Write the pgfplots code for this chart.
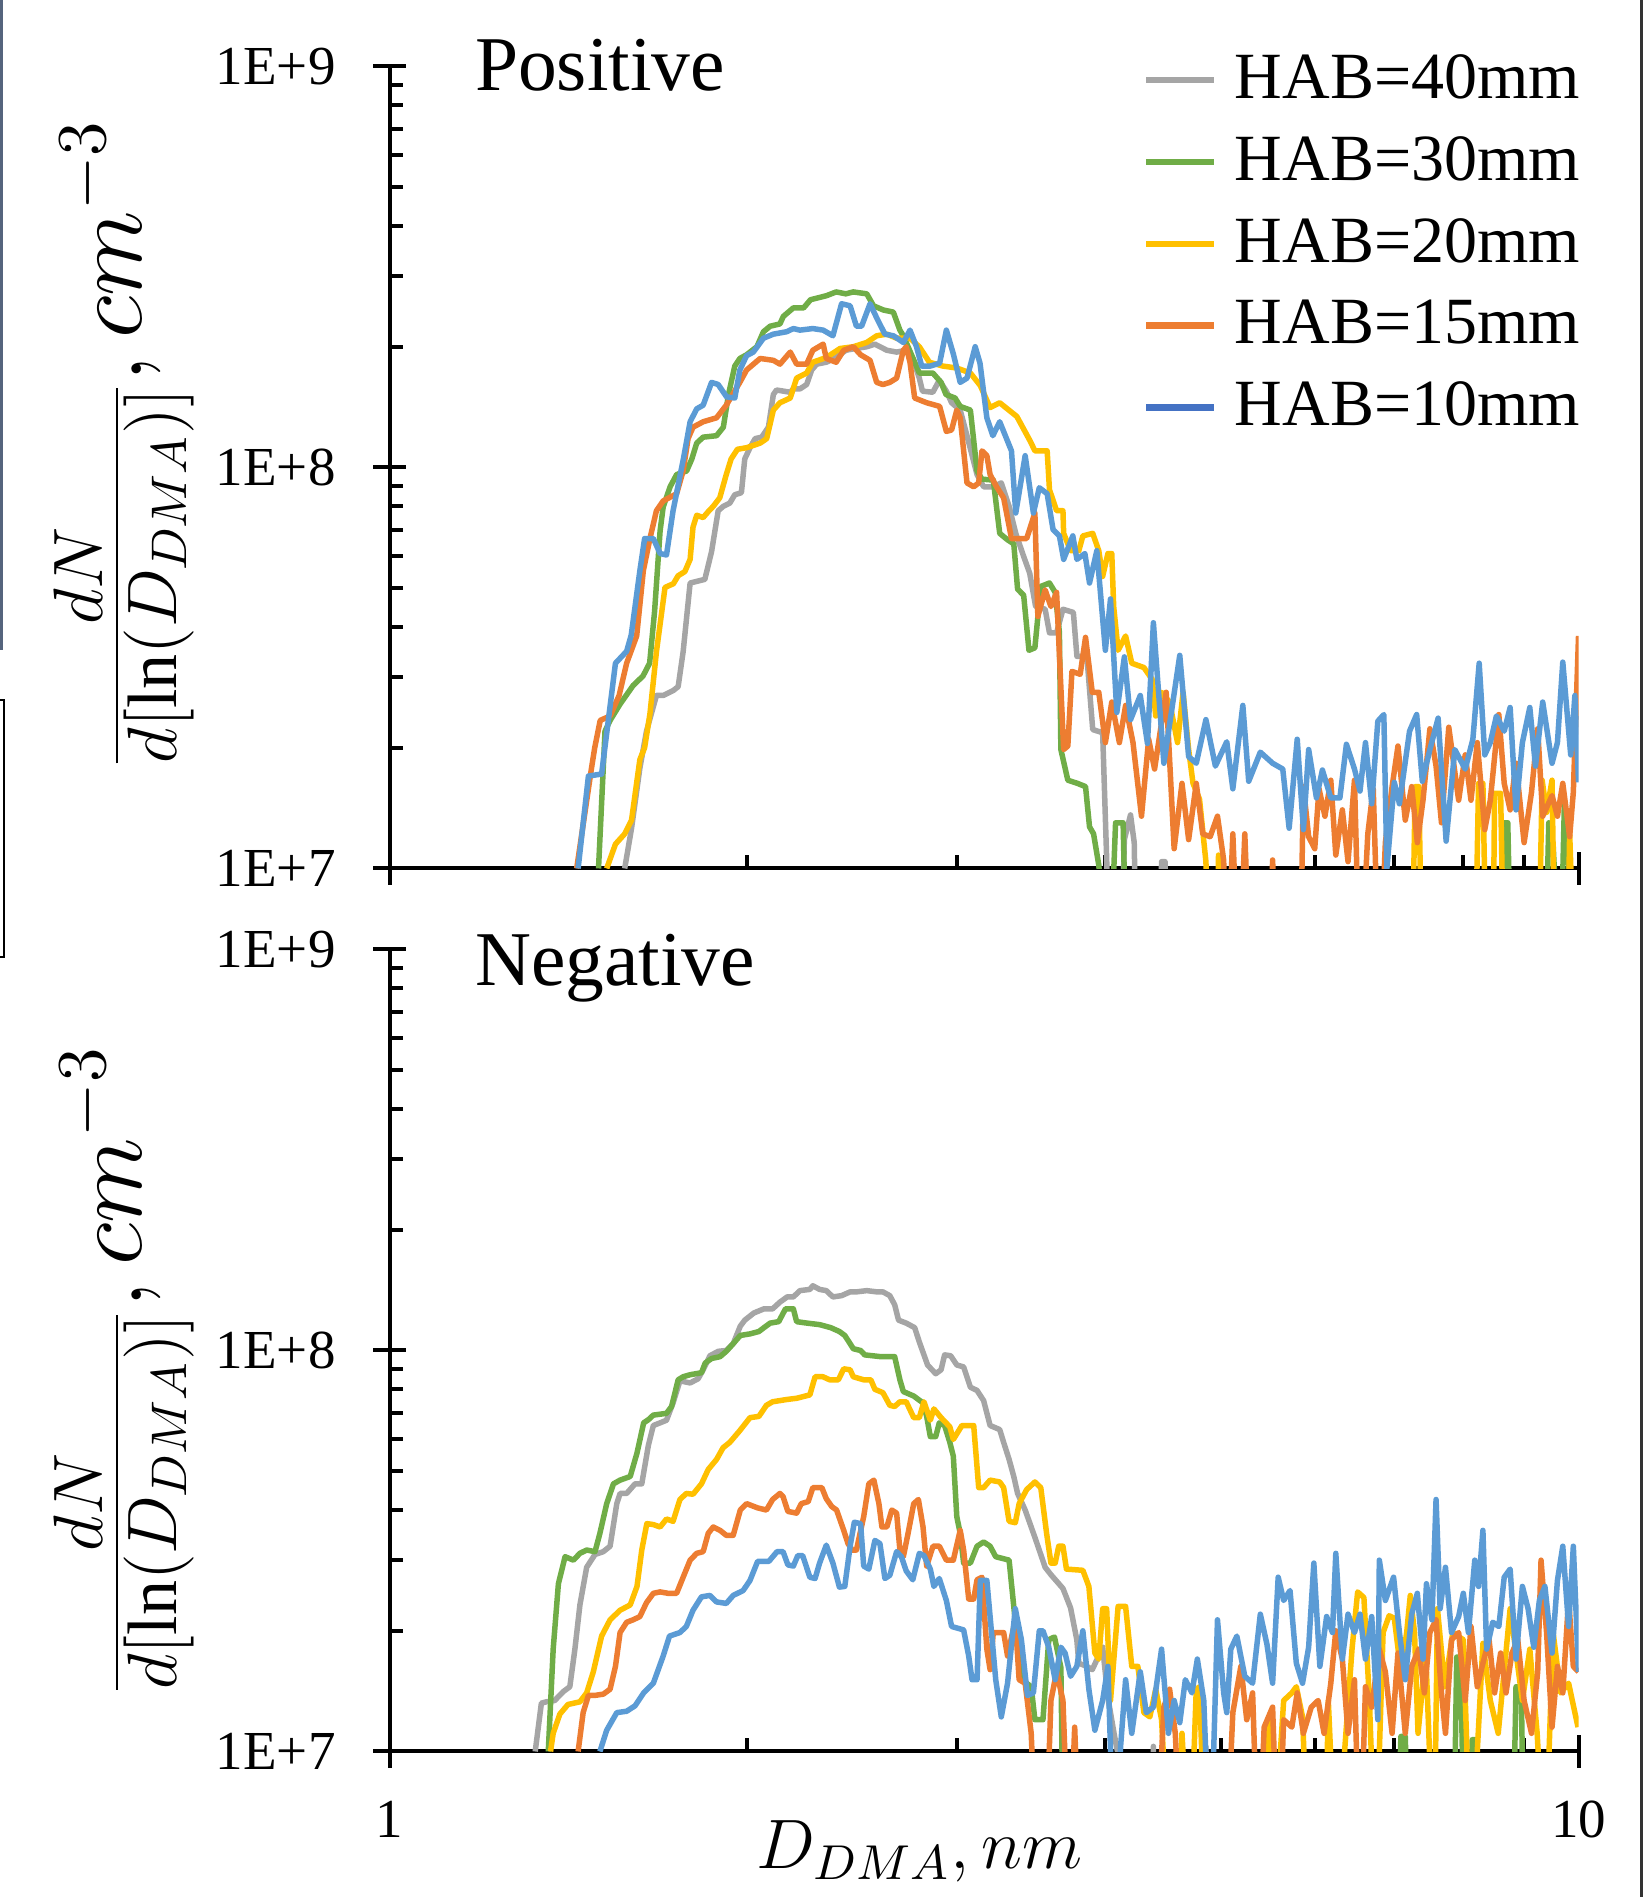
\RequirePackage{fix-cm}
\documentclass[border=0pt]{standalone}
\usepackage{fontspec}
\setmainfont{Liberation Serif}
\usepackage{pgfplots}
\pgfplotsset{compat=1.18}

\definecolor{cGray}{HTML}{A5A5A5}
\definecolor{cGreen}{HTML}{70AD47}
\definecolor{cYellow}{HTML}{FFC000}
\definecolor{cOrange}{HTML}{ED7D31}
\definecolor{cBlue}{HTML}{5B9BD5}
\definecolor{cBlueL}{HTML}{4472C4}
\definecolor{cEdge}{RGB}{85,100,125}

\pgfplotsset{every axis plot/.append style={line width=1.1pt, line join=round, no marks}}
\tikzset{lbl/.style={anchor=base west, inner sep=0pt, font=\fontsize{15.5}{18}\selectfont}}

\begin{document}
\begin{tikzpicture}
\path[use as bounding box] (0,0) rectangle (328.8pt,-379.4pt);
% edges of the neighbouring figures left in the crop
\draw[line width=0.5pt, color=cEdge] (0.25pt,0) -- (0.25pt,-130pt);
\draw[line width=0.4pt] (-1pt,-140pt) -- (0.8pt,-140pt) -- (0.8pt,-191.4pt) -- (-1pt,-191.4pt);
\draw[line width=0.6pt, color=black!80] (328.3pt,0) -- (328.3pt,-379.4pt);

% ---------------- Positive ----------------
\begin{axis}[
  xmode=log, ymode=log, scale only axis, clip mode=individual,
  width=237.8pt, height=160.4pt,
  at={(77.9pt,-173.7pt)}, anchor=south west,
  xmin=1, xmax=10, ymin=1e7, ymax=1e9,
  axis lines*=left,
  axis line style={line width=0.8pt},
  tick style={black, line width=0.8pt},
  tick align=inside, major tick length=3.3pt, minor tick length=2.7pt,
  xtick={1,10}, minor xtick={2,3,4,5,6,7,8,9}, xticklabels={},
  ytick={1e7,1e8,1e9}, yticklabels={1E+7,1E+8,1E+9},
  minor ytick={2e7,3e7,4e7,5e7,6e7,7e7,8e7,9e7,2e8,3e8,4e8,5e8,6e8,7e8,8e8,9e8},
  extra x ticks={1,10}, extra x tick labels={},
  extra y ticks={1e7,1e8,1e9}, extra y tick labels={},
  extra tick style={tick align=outside},
  yticklabel style={font=\fontsize{11}{13}\selectfont, anchor=east, inner sep=0pt, xshift=-10.6pt},
  ylabel={$\frac{dN}{d[\ln(D_{DMA})]}, cm^{-3}$},
  ylabel style={at={(rel axis cs:-0.2233,0.5287)}, anchor=center, inner sep=0pt, font=\fontsize{20}{24}\selectfont},
  legend style={at={(rel axis cs:0.6337,1.0150)}, anchor=north west, draw=none, fill=none,
    inner sep=0pt, outer sep=0pt, row sep=6.1pt,
    font=\fontsize{13.2}{15}\selectfont, nodes={inner sep=0pt}},
  legend cell align=left,
  legend image code/.code={\draw[#1] (0pt,0pt) -- (13.5pt,0pt); \path (17.1pt,0pt);},
]
\addlegendimage{cGray, line width=1.3pt}\addlegendentry{HAB=40mm}
\addlegendimage{cGreen, line width=1.3pt}\addlegendentry{HAB=30mm}
\addlegendimage{cYellow, line width=1.3pt}\addlegendentry{HAB=20mm}
\addlegendimage{cOrange, line width=1.3pt}\addlegendentry{HAB=15mm}
\addlegendimage{cBlueL, line width=1.3pt}\addlegendentry{HAB=10mm}

% HAB=40mm
\addplot[cGray, forget plot] coordinates {
(1.577,1e7)(1.598,1.26e7)(1.624,1.78e7)(1.645,2.2e7)(1.677,2.7e7)(1.699,2.7e7)(1.733,2.78e7)(1.749,2.84e7)(1.766,3.47e7)(1.79,5.15e7)(1.842,5.26e7)(1.866,6.17e7)(1.89,7.8e7)(1.909,8.0e7)(1.933,8.15e7)(1.952,8.55e7)(1.977,8.65e7)(1.99,1.05e8)(2.01,1.12e8)(2.03,1.18e8)(2.056,1.19e8)(2.083,1.26e8)(2.103,1.52e8)(2.116,1.56e8)(2.173,1.54e8)(2.186,1.57e8)(2.214,1.57e8)(2.243,1.61e8)(2.265,1.75e8)(2.287,1.81e8)(2.33,1.83e8)(2.368,1.87e8)(2.42,1.96e8)(2.466,1.98e8)(2.52,2.0e8)(2.56,2.03e8)(2.62,1.96e8)(2.67,1.94e8)(2.72,1.96e8)(2.755,1.87e8)(2.79,1.67e8)(2.807,1.55e8)(2.864,1.54e8)(2.9,1.65e8)(2.94,1.55e8)(2.97,1.45e8)(3.02,1.39e8)(3.06,1.2e8)(3.12,9.6e7)(3.16,8.95e7)(3.22,8.95e7)(3.27,9.15e7)(3.32,8.0e7)(3.363,6.85e7)(3.415,6.0e7)(3.455,5.45e7)(3.495,4.5e7)(3.56,4.43e7)(3.59,3.87e7)(3.64,3.87e7)(3.685,4.43e7)(3.76,4.35e7)(3.786,3.38e7)(3.86,3.38e7)(3.904,2.22e7)(3.98,2.18e7)(4.01,1.06e7)(4.04,5e6)(4.12,5e6)(4.15,1.18e7)(4.2,1.36e7)(4.23,1.16e7)(4.25,5e6)(4.44,5e6)(4.46,1.04e7)(4.49,1.04e7)(4.51,5e6)(10,5e6)
};
% HAB=30mm
\addplot[cGreen, forget plot] coordinates {
(1.499,1e7)(1.518,2.2e7)(1.533,2.34e7)(1.563,2.57e7)(1.603,2.86e7)(1.634,3.02e7)(1.655,3.25e7)(1.671,4.37e7)(1.689,6.95e7)(1.699,7.97e7)(1.722,8.95e7)(1.744,9.6e7)(1.778,9.8e7)(1.796,1.05e8)(1.813,1.15e8)(1.836,1.19e8)(1.884,1.2e8)(1.909,1.26e8)(1.928,1.52e8)(1.952,1.79e8)(1.971,1.87e8)(1.997,1.91e8)(2.037,2.0e8)(2.063,2.18e8)(2.09,2.25e8)(2.13,2.28e8)(2.144,2.38e8)(2.186,2.5e8)(2.23,2.5e8)(2.26,2.62e8)(2.33,2.68e8)(2.375,2.74e8)(2.42,2.71e8)(2.455,2.74e8)(2.52,2.71e8)(2.553,2.53e8)(2.602,2.47e8)(2.653,2.44e8)(2.687,2.2e8)(2.705,2.13e8)(2.79,1.72e8)(2.864,1.72e8)(2.91,1.63e8)(2.938,1.52e8)(2.99,1.49e8)(3.02,1.42e8)(3.08,1.39e8)(3.12,9.8e7)(3.15,9.35e7)(3.22,9.3e7)(3.26,6.85e7)(3.31,6.6e7)(3.35,6.45e7)(3.375,4.97e7)(3.415,4.8e7)(3.45,3.5e7)(3.49,3.55e7)(3.53,5.05e7)(3.59,5.15e7)(3.63,4.88e7)(3.66,3.88e7)(3.67,1.98e7)(3.72,1.66e7)(3.79,1.63e7)(3.85,1.6e7)(3.88,1.27e7)(3.91,1.22e7)(3.95,1.02e7)(4.03,5e6)(4.08,1.3e7)(4.14,1.3e7)(4.17,5e6)(8.6,5e6)(8.66,1.3e7)(8.72,1.3e7)(8.78,5e6)(9.37,5e6)(9.44,1.3e7)(9.52,1.15e7)(9.65,5e6)(9.73,1.45e7)(9.83,9.5e6)(10,5e6)
};
% HAB=20mm
\addplot[cYellow, forget plot] coordinates {
(1.523,1e7)(1.549,1.15e7)(1.577,1.22e7)(1.598,1.32e7)(1.624,1.87e7)(1.639,2.0e7)(1.656,2.43e7)(1.677,3.47e7)(1.705,5.02e7)(1.733,5.13e7)(1.749,5.37e7)(1.772,5.5e7)(1.79,5.9e7)(1.80,7.1e7)(1.813,7.6e7)(1.836,7.5e7)(1.854,7.76e7)(1.872,8.0e7)(1.896,8.4e7)(1.92,9.6e7)(1.938,1.05e8)(1.962,1.11e8)(1.997,1.12e8)(2.05,1.15e8)(2.076,1.18e8)(2.103,1.39e8)(2.13,1.45e8)(2.173,1.49e8)(2.2,1.67e8)(2.243,1.72e8)(2.27,1.83e8)(2.33,1.88e8)(2.393,1.98e8)(2.455,2.0e8)(2.52,2.05e8)(2.569,2.13e8)(2.62,2.15e8)(2.67,2.1e8)(2.74,2.1e8)(2.79,2.0e8)(2.845,1.83e8)(2.92,1.79e8)(3.0,1.77e8)(3.08,1.72e8)(3.14,1.6e8)(3.2,1.41e8)(3.26,1.45e8)(3.37,1.34e8)(3.46,1.16e8)(3.49,1.1e8)(3.574,1.1e8)(3.59,8.8e7)(3.64,7.8e7)(3.685,7.8e7)(3.69,6.85e7)(3.74,6.2e7)(3.80,6.2e7)(3.83,6.75e7)(3.904,6.85e7)(3.95,6.2e7)(3.98,5.35e7)(4.02,6.1e7)(4.05,6.1e7)(4.065,4.5e7)(4.1,3.5e7)(4.16,3.8e7)(4.21,3.25e7)(4.31,3.17e7)(4.38,2.96e7)(4.41,2.4e7)(4.46,2.75e7)(4.53,2.6e7)(4.6,2.06e7)(4.65,2.75e7)(4.7,1.98e7)(4.74,1.63e7)(4.8,1.49e7)(4.86,1.04e7)(4.9,5e6)(4.96,5e6)(4.98,1.08e7)(5.0,5e6)(7.24,5e6)(7.29,1.6e7)(7.34,1.6e7)(7.39,5e6)(8.18,5e6)(8.24,1.63e7)(8.31,1.63e7)(8.37,5e6)(8.47,5e6)(8.5,1.54e7)(8.6,1.54e7)(8.66,5e6)(9.25,5e6)(9.32,1.66e7)(9.4,1.38e7)(9.5,1.66e7)(9.56,5e6)(9.78,5e6)(9.83,1.23e7)(9.93,5e6)(10,5e6)
};
% HAB=15mm
\addplot[cOrange, forget plot] coordinates {
(1.437,1e7)(1.478,1.76e7)(1.488,2.0e7)(1.504,2.34e7)(1.533,2.4e7)(1.56,2.7e7)(1.583,3.25e7)(1.614,3.8e7)(1.635,5.53e7)(1.656,6.65e7)(1.677,7.8e7)(1.699,8.25e7)(1.744,8.6e7)(1.766,9.8e7)(1.783,1.18e8)(1.80,1.26e8)(1.836,1.3e8)(1.884,1.33e8)(1.92,1.43e8)(1.971,1.63e8)(1.997,1.75e8)(2.05,1.87e8)(2.103,1.85e8)(2.13,1.81e8)(2.173,1.94e8)(2.2,1.81e8)(2.243,1.81e8)(2.27,1.96e8)(2.316,2.03e8)(2.33,1.87e8)(2.375,1.83e8)(2.41,1.96e8)(2.455,2.0e8)(2.49,1.91e8)(2.536,1.85e8)(2.569,1.63e8)(2.6,1.61e8)(2.635,1.63e8)(2.67,1.67e8)(2.705,1.96e8)(2.72,2.0e8)(2.74,1.83e8)(2.765,1.49e8)(2.83,1.45e8)(2.902,1.42e8)(2.94,1.23e8)(2.97,1.24e8)(3.0,1.39e8)(3.02,1.33e8)(3.06,9.15e7)(3.1,8.95e7)(3.13,9.15e7)(3.15,1.1e8)(3.18,1.07e8)(3.2,9.6e7)(3.24,8.95e7)(3.285,8.4e7)(3.335,6.65e7)(3.435,6.65e7)(3.49,7.7e7)(3.51,4.25e7)(3.56,4.95e7)(3.6,4.5e7)(3.64,4.88e7)(3.69,1.98e7)(3.72,2.02e7)(3.75,3.1e7)(3.81,3.05e7)(3.85,3.77e7)(3.9,2.75e7)(3.95,2.75e7)(4.0,2.06e7)(4.05,2.6e7)(4.11,2.06e7)(4.16,2.55e7)(4.22,2.06e7)(4.29,1.35e7)(4.35,2.1e7)(4.4,1.77e7)(4.5,2.75e7)(4.57,1.12e7)(4.64,1.63e7)(4.7,1.18e7)(4.77,1.63e7)(4.83,1.22e7)(4.9,1.2e7)(4.97,1.35e7)(5.03,1.05e7)(5.06,5e6)(5.12,1.22e7)(5.18,5e6)(5.24,1.22e7)(5.3,5e6)(5.5,5e6)(5.53,1.05e7)(5.58,5e6)(5.83,5e6)(5.87,1.6e7)(5.93,1.2e7)(6.0,1.12e7)(6.05,1.58e7)(6.12,1.35e7)(6.19,1.66e7)(6.25,1.08e7)(6.33,1.4e7)(6.4,1.04e7)(6.48,1.66e7)(6.55,5e6)(6.65,1.22e7)(6.72,1.58e7)(6.8,5e6)(6.88,1.16e7)(6.97,1.6e7)(7.05,2.02e7)(7.15,1.32e7)(7.24,1.6e7)(7.32,1.16e7)(7.4,1.48e7)(7.5,2.23e7)(7.59,1.8e7)(7.67,1.3e7)(7.78,2.25e7)(7.93,1.48e7)(8.03,1.92e7)(8.12,1.48e7)(8.22,2.06e7)(8.34,1.25e7)(8.43,1.48e7)(8.57,2.42e7)(8.66,1.63e7)(8.76,1.4e7)(8.86,1.83e7)(9.0,1.16e7)(9.13,1.55e7)(9.24,2.23e7)(9.33,1.35e7)(9.5,1.52e7)(9.6,1.35e7)(9.7,1.63e7)(9.83,1.2e7)(9.9,1.55e7)(10,3.8e7)
};
% HAB=10mm
\addplot[cBlue, forget plot] coordinates {
(1.441,1e7)(1.47,1.7e7)(1.508,1.72e7)(1.549,3.25e7)(1.583,3.48e7)(1.597,3.82e7)(1.624,5.53e7)(1.639,6.65e7)(1.667,6.65e7)(1.689,6.1e7)(1.71,6.05e7)(1.732,7.8e7)(1.767,1.052e8)(1.79,1.3e8)(1.813,1.4e8)(1.836,1.43e8)(1.866,1.63e8)(1.89,1.61e8)(1.921,1.5e8)(1.952,1.49e8)(1.971,1.75e8)(1.997,1.9e8)(2.023,1.94e8)(2.063,2.1e8)(2.103,2.15e8)(2.158,2.18e8)(2.186,2.22e8)(2.214,2.2e8)(2.27,2.22e8)(2.316,2.2e8)(2.36,2.13e8)(2.40,2.56e8)(2.44,2.53e8)(2.47,2.25e8)(2.495,2.25e8)(2.536,2.56e8)(2.569,2.36e8)(2.61,2.15e8)(2.653,2.13e8)(2.705,2.05e8)(2.74,2.2e8)(2.775,2.0e8)(2.803,1.79e8)(2.85,1.79e8)(2.902,1.82e8)(2.94,2.2e8)(2.98,1.92e8)(3.02,1.63e8)(3.06,1.67e8)(3.109,2.0e8)(3.138,1.82e8)(3.18,1.33e8)(3.217,1.2e8)(3.26,1.3e8)(3.335,1.1e8)(3.363,7.7e7)(3.425,1.07e8)(3.48,7.7e7)(3.52,8.9e7)(3.574,8.6e7)(3.615,7e7)(3.66,6.75e7)(3.69,5.9e7)(3.756,6.75e7)(3.786,5.9e7)(3.845,6.1e7)(3.88,5.15e7)(3.935,6.2e7)(4.0,3.5e7)(4.04,4.7e7)(4.09,2.45e7)(4.15,3.37e7)(4.2,2.35e7)(4.28,2.7e7)(4.34,2.05e7)(4.39,4.1e7)(4.48,1.83e7)(4.62,3.4e7)(4.7,1.9e7)(4.77,1.83e7)(4.86,2.35e7)(4.95,1.8e7)(5.06,2.07e7)(5.12,1.58e7)(5.22,2.55e7)(5.28,1.65e7)(5.4,1.95e7)(5.53,1.83e7)(5.64,1.77e7)(5.71,1.26e7)(5.8,2.1e7)(5.87,1.25e7)(5.93,1.98e7)(6.02,1.5e7)(6.09,1.76e7)(6.19,1.5e7)(6.3,1.5e7)(6.38,2.04e7)(6.48,1.77e7)(6.55,1.56e7)(6.62,2.06e7)(6.7,1.45e7)(6.78,2.33e7)(6.86,2.42e7)(6.9,1.0e7)(7.0,1.64e7)(7.07,1.45e7)(7.21,2.2e7)(7.31,2.42e7)(7.39,1.65e7)(7.5,1.98e7)(7.62,2.37e7)(7.74,1.17e7)(7.87,1.98e7)(8.03,1.77e7)(8.15,2.1e7)(8.25,3.25e7)(8.34,1.92e7)(8.43,2.06e7)(8.53,2.4e7)(8.66,2.2e7)(8.76,2.52e7)(8.86,1.4e7)(8.97,2.06e7)(9.1,2.52e7)(9.2,1.8e7)(9.33,2.6e7)(9.5,1.83e7)(9.6,2.06e7)(9.7,3.27e7)(9.85,1.92e7)(9.93,2.7e7)(10,1.64e7)
};
\node[lbl] at (rel axis cs:0.0712,0.9698) {Positive};
\end{axis}

% ---------------- Negative ----------------
\begin{axis}[
  xmode=log, ymode=log, scale only axis, clip mode=individual,
  width=237.8pt, height=160.4pt,
  at={(77.9pt,-350.3pt)}, anchor=south west,
  xmin=1, xmax=10, ymin=1e7, ymax=1e9,
  axis lines*=left,
  axis line style={line width=0.8pt},
  tick style={black, line width=0.8pt},
  tick align=inside, major tick length=3.3pt, minor tick length=2.7pt,
  xtick={1,10}, minor xtick={2,3,4,5,6,7,8,9}, xticklabels={1,10},
  ytick={1e7,1e8,1e9}, yticklabels={1E+7,1E+8,1E+9},
  minor ytick={2e7,3e7,4e7,5e7,6e7,7e7,8e7,9e7,2e8,3e8,4e8,5e8,6e8,7e8,8e8,9e8},
  extra x ticks={1,10}, extra x tick labels={},
  extra y ticks={1e7,1e8,1e9}, extra y tick labels={},
  extra tick style={tick align=outside},
  yticklabel style={font=\fontsize{11}{13}\selectfont, anchor=east, inner sep=0pt, xshift=-10.6pt},
  xticklabel style={font=\fontsize{11}{13}\selectfont, anchor=north, inner sep=0pt, yshift=-9.7pt},
  xlabel={$D_{DMA}, nm$},
  xlabel style={at={(rel axis cs:0.4457,-0.1465)}, anchor=base, inner sep=0pt, font=\fontsize{14}{16}\selectfont},
  ylabel={$\frac{dN}{d[\ln(D_{DMA})]}, cm^{-3}$},
  ylabel style={at={(rel axis cs:-0.2233,0.4744)}, anchor=center, inner sep=0pt, font=\fontsize{20}{24}\selectfont},
]
% HAB=40mm
\addplot[cGray] coordinates {
(1.326,1e7)(1.342,1.32e7)(1.355,1.33e7)(1.377,1.34e7)(1.40,1.41e7)(1.418,1.45e7)(1.432,1.8e7)(1.446,2.32e7)(1.465,2.88e7)(1.489,3.1e7)(1.513,3.15e7)(1.533,3.25e7)(1.553,4.15e7)(1.563,4.4e7)(1.583,4.4e7)(1.609,4.65e7)(1.63,4.65e7)(1.651,5.8e7)(1.667,6.5e7)(1.689,6.6e7)(1.71,6.7e7)(1.732,7.4e7)(1.755,8.4e7)(1.79,8.3e7)(1.818,8.5e7)(1.836,8.95e7)(1.86,9.7e7)(1.89,9.95e7)(1.92,1.0e8)(1.946,1.04e8)(1.973,1.15e8)(1.99,1.19e8)(2.025,1.24e8)(2.065,1.27e8)(2.1,1.27e8)(2.13,1.32e8)(2.16,1.36e8)(2.186,1.36e8)(2.214,1.41e8)(2.257,1.42e8)(2.27,1.45e8)(2.3,1.42e8)(2.33,1.41e8)(2.36,1.36e8)(2.4,1.37e8)(2.44,1.4e8)(2.47,1.4e8)(2.52,1.41e8)(2.57,1.4e8)(2.6,1.4e8)(2.635,1.37e8)(2.66,1.3e8)(2.68,1.19e8)(2.72,1.17e8)(2.765,1.14e8)(2.79,1.05e8)(2.835,9.2e7)(2.88,8.75e7)(2.91,8.95e7)(2.93,9.75e7)(2.965,9.7e7)(3.0,9.2e7)(3.04,9.1e7)(3.08,8.1e7)(3.12,7.95e7)(3.16,7.5e7)(3.2,6.5e7)(3.26,6.35e7)(3.285,5.9e7)(3.32,5.35e7)(3.35,4.85e7)(3.375,4.4e7)(3.425,4.0e7)(3.49,3.42e7)(3.56,2.88e7)(3.6,2.76e7)(3.685,2.55e7)(3.74,2.28e7)(3.785,1.9e7)(3.8,1.66e7)(3.86,1.63e7)(3.9,1.6e7)(3.98,1.82e7)(4.02,1.36e7)(4.07,1.1e7)(4.1,9.8e6)(4.13,5e6)(4.37,5e6)(4.39,1.03e7)(4.41,5e6)(4.84,5e6)(4.86,1.03e7)(4.88,5e6)(10,5e6)
};
% HAB=30mm
\addplot[cGreen] coordinates {
(1.36,1e7)(1.373,1.8e7)(1.387,2.62e7)(1.405,3.06e7)(1.428,3.0e7)(1.446,3.12e7)(1.465,3.18e7)(1.489,3.15e7)(1.503,3.5e7)(1.523,4.15e7)(1.543,4.65e7)(1.563,4.75e7)(1.594,4.85e7)(1.615,5.55e7)(1.636,6.6e7)(1.651,6.72e7)(1.667,6.9e7)(1.71,6.97e7)(1.727,7.25e7)(1.749,8.45e7)(1.766,8.6e7)(1.79,8.7e7)(1.83,8.8e7)(1.843,9.3e7)(1.866,9.55e7)(1.897,9.65e7)(1.92,9.95e7)(1.946,1.04e8)(1.973,1.09e8)(2.01,1.1e8)(2.045,1.115e8)(2.065,1.14e8)(2.09,1.17e8)(2.125,1.18e8)(2.153,1.27e8)(2.186,1.27e8)(2.2,1.18e8)(2.245,1.17e8)(2.3,1.16e8)(2.35,1.14e8)(2.39,1.115e8)(2.415,1.09e8)(2.44,1.04e8)(2.455,1.01e8)(2.49,1.0e8)(2.51,9.75e7)(2.59,9.65e7)(2.66,9.65e7)(2.687,8.45e7)(2.705,7.9e7)(2.76,7.7e7)(2.81,7.4e7)(2.83,6.85e7)(2.85,6.1e7)(2.88,6.1e7)(2.9,6.6e7)(2.93,6.5e7)(2.96,5.9e7)(2.98,5.45e7)(3.0,3.85e7)(3.02,3.5e7)(3.04,2.95e7)(3.08,2.95e7)(3.12,3.25e7)(3.16,3.33e7)(3.2,3.25e7)(3.235,3.06e7)(3.32,3.0e7)(3.35,2.3e7)(3.375,1.83e7)(3.415,1.5e7)(3.465,1.45e7)(3.49,1.2e7)(3.545,1.2e7)(3.585,1.9e7)(3.625,1.93e7)(3.67,1.62e7)(3.69,5e6)(7.04,5e6)(7.09,1.09e7)(7.15,1.09e7)(7.2,5e6)(7.85,5e6)(7.9,1.72e7)(7.96,1.72e7)(8.02,5e6)(8.1,5e6)(8.14,1.07e7)(8.2,1.07e7)(8.25,5e6)(8.8,5e6)(8.86,1.45e7)(8.95,1.45e7)(9.0,5e6)(10,5e6)
};
% HAB=20mm
\addplot[cYellow] coordinates {
(1.366,1e7)(1.373,1.11e7)(1.391,1.24e7)(1.413,1.31e7)(1.446,1.33e7)(1.465,1.4e7)(1.484,1.58e7)(1.508,1.94e7)(1.533,2.13e7)(1.563,2.25e7)(1.594,2.32e7)(1.615,2.58e7)(1.63,3.18e7)(1.646,3.7e7)(1.667,3.68e7)(1.689,3.63e7)(1.71,3.8e7)(1.732,3.75e7)(1.755,4.25e7)(1.777,4.4e7)(1.8,4.38e7)(1.83,4.65e7)(1.854,5.05e7)(1.884,5.35e7)(1.908,5.72e7)(1.933,5.9e7)(1.97,6.3e7)(2.01,6.8e7)(2.045,6.85e7)(2.075,7.3e7)(2.1,7.45e7)(2.16,7.55e7)(2.2,7.6e7)(2.257,7.75e7)(2.28,8.6e7)(2.315,8.6e7)(2.345,8.45e7)(2.385,8.45e7)(2.41,9.0e7)(2.44,8.95e7)(2.455,8.6e7)(2.505,8.45e7)(2.54,8.45e7)(2.56,8.0e7)(2.6,7.85e7)(2.635,7.3e7)(2.66,7.25e7)(2.687,7.45e7)(2.72,7.45e7)(2.76,6.8e7)(2.79,6.8e7)(2.815,7.45e7)(2.85,6.7e7)(2.87,7.15e7)(2.91,6.8e7)(2.96,6.45e7)(2.98,6.0e7)(3.03,6.5e7)(3.1,6.5e7)(3.13,4.55e7)(3.16,4.55e7)(3.2,4.75e7)(3.26,4.7e7)(3.285,4.55e7)(3.32,3.75e7)(3.36,3.72e7)(3.385,4.15e7)(3.435,4.5e7)(3.49,4.7e7)(3.53,4.55e7)(3.57,3.5e7)(3.6,2.95e7)(3.63,2.95e7)(3.655,3.25e7)(3.685,3.25e7)(3.71,2.85e7)(3.83,2.83e7)(3.875,2.58e7)(3.92,1.76e7)(3.95,1.7e7)(3.98,2.27e7)(4.01,2.27e7)(4.04,1.34e7)(4.1,2.3e7)(4.16,2.3e7)(4.21,1.63e7)(4.26,1.63e7)(4.31,1.25e7)(4.36,1.22e7)(4.41,1.43e7)(4.46,1.2e7)(4.53,5e6)(4.6,5e6)(4.64,1.11e7)(4.71,5e6)(4.77,1.43e7)(4.8,1.45e7)(4.86,5e6)(5.44,5e6)(5.49,1.22e7)(5.53,5e6)(5.65,1.34e7)(5.74,1.4e7)(5.79,1.45e7)(5.86,1.22e7)(5.93,5e6)(6.12,5e6)(6.16,1.34e7)(6.25,5e6)(6.45,1.8e7)(6.52,2.5e7)(6.6,2.42e7)(6.67,1.34e7)(6.75,5e6)(6.85,1.98e7)(6.93,2.18e7)(7.0,2.15e7)(7.09,1.58e7)(7.17,1.98e7)(7.22,2.45e7)(7.28,1.98e7)(7.33,1.11e7)(7.44,1.76e7)(7.56,5e6)(7.61,2.27e7)(7.72,1.45e7)(7.84,1.98e7)(8.0,1.9e7)(8.12,5e6)(8.31,1.86e7)(8.43,1.34e7)(8.56,1.11e7)(8.76,2.27e7)(8.97,1.34e7)(9.1,1.8e7)(9.23,1.11e7)(9.37,5e6)(9.52,1.98e7)(9.66,1.4e7)(9.81,1.48e7)(9.99,1.15e7)
};
% HAB=15mm
\addplot[cOrange] coordinates {
(1.441,1e7)(1.455,1.25e7)(1.47,1.38e7)(1.489,1.38e7)(1.513,1.39e7)(1.533,1.43e7)(1.549,1.63e7)(1.563,1.98e7)(1.583,2.1e7)(1.603,2.13e7)(1.624,2.17e7)(1.645,2.35e7)(1.667,2.48e7)(1.689,2.5e7)(1.715,2.48e7)(1.744,2.48e7)(1.766,2.72e7)(1.79,3.0e7)(1.813,3.12e7)(1.836,3.15e7)(1.854,3.5e7)(1.872,3.63e7)(1.897,3.56e7)(1.92,3.46e7)(1.946,3.46e7)(1.973,4.0e7)(1.997,4.15e7)(2.04,4.05e7)(2.075,4.0e7)(2.1,4.25e7)(2.13,4.4e7)(2.143,4.32e7)(2.163,3.97e7)(2.2,3.93e7)(2.22,4.15e7)(2.25,4.2e7)(2.27,4.55e7)(2.31,4.55e7)(2.33,4.27e7)(2.355,4.08e7)(2.377,4.0e7)(2.41,3.56e7)(2.43,3.3e7)(2.45,3.18e7)(2.47,3.18e7)(2.505,3.85e7)(2.53,4.65e7)(2.555,4.75e7)(2.58,4.15e7)(2.595,3.63e7)(2.62,3.63e7)(2.645,4.0e7)(2.67,3.93e7)(2.687,3.18e7)(2.705,3.06e7)(2.73,3.5e7)(2.76,4.15e7)(2.785,4.25e7)(2.81,3.63e7)(2.83,2.9e7)(2.865,3.25e7)(2.9,3.25e7)(2.94,3.0e7)(2.98,3.0e7)(3.02,3.56e7)(3.04,3.18e7)(3.07,2.4e7)(3.1,2.4e7)(3.12,2.68e7)(3.15,2.72e7)(3.18,1.8e7)(3.2,1.6e7)(3.22,1.98e7)(3.285,1.98e7)(3.31,1.73e7)(3.36,2.13e7)(3.385,1.51e7)(3.425,1.48e7)(3.465,1.11e7)(3.505,5e6)(3.56,5e6)(3.6,1.34e7)(3.64,1.58e7)(3.685,1.34e7)(3.73,5e6)(3.77,1.15e7)(3.81,5e6)(4.41,5e6)(4.48,1.29e7)(4.53,1.43e7)(4.58,1.11e7)(4.64,5e6)(5.05,5e6)(5.12,1.25e7)(5.2,1.63e7)(5.26,1.2e7)(5.32,1.4e7)(5.38,5e6)(5.44,1.15e7)(5.53,1.29e7)(5.59,5e6)(5.65,1.2e7)(5.74,1.15e7)(5.8,1.4e7)(5.87,1.11e7)(5.96,1.29e7)(6.04,1.34e7)(6.11,1.11e7)(6.19,1.48e7)(6.25,2.0e7)(6.33,1.7e7)(6.4,1.11e7)(6.48,1.51e7)(6.55,5e6)(6.62,1.45e7)(6.7,1.29e7)(6.8,1.8e7)(6.88,1.58e7)(6.97,1.11e7)(7.05,1.76e7)(7.15,1.11e7)(7.24,1.63e7)(7.34,1.8e7)(7.42,1.4e7)(7.5,1.98e7)(7.59,2.13e7)(7.67,1.4e7)(7.73,1.11e7)(7.82,1.9e7)(7.93,1.98e7)(8.03,1.34e7)(8.12,2.05e7)(8.22,1.45e7)(8.31,1.66e7)(8.41,1.9e7)(8.5,1.4e7)(8.6,1.76e7)(8.69,1.4e7)(8.79,1.76e7)(8.89,1.9e7)(9.0,1.34e7)(9.13,1.11e7)(9.24,1.58e7)(9.3,3.0e7)(9.4,1.98e7)(9.5,1.15e7)(9.6,1.63e7)(9.7,1.4e7)(9.81,2.4e7)(9.9,1.63e7)(10,1.58e7)
};
% HAB=10mm
\addplot[cBlue] coordinates {
(1.503,1e7)(1.523,1.13e7)(1.553,1.25e7)(1.583,1.26e7)(1.609,1.3e7)(1.636,1.4e7)(1.667,1.48e7)(1.699,1.73e7)(1.72,1.94e7)(1.755,1.98e7)(1.777,2.05e7)(1.8,2.25e7)(1.83,2.43e7)(1.86,2.45e7)(1.884,2.36e7)(1.92,2.34e7)(1.946,2.45e7)(1.984,2.52e7)(2.01,2.67e7)(2.04,2.98e7)(2.085,2.98e7)(2.118,3.15e7)(2.143,3.15e7)(2.163,2.92e7)(2.186,2.9e7)(2.205,3.08e7)(2.226,3.08e7)(2.257,2.72e7)(2.28,2.7e7)(2.3,2.95e7)(2.33,3.27e7)(2.36,2.95e7)(2.39,2.57e7)(2.415,2.58e7)(2.44,3.25e7)(2.46,3.73e7)(2.49,3.7e7)(2.505,2.9e7)(2.53,2.85e7)(2.56,3.36e7)(2.585,3.3e7)(2.61,2.7e7)(2.635,2.75e7)(2.67,3.15e7)(2.695,3.06e7)(2.72,2.82e7)(2.755,2.68e7)(2.79,3.12e7)(2.815,3.08e7)(2.85,2.85e7)(2.87,2.58e7)(2.9,2.7e7)(2.94,2.38e7)(2.97,2.05e7)(3.04,2.01e7)(3.07,1.73e7)(3.09,1.51e7)(3.12,1.51e7)(3.14,2.67e7)(3.18,2.67e7)(3.2,2.17e7)(3.235,1.51e7)(3.27,1.22e7)(3.31,1.48e7)(3.36,2.27e7)(3.4,1.9e7)(3.44,1.38e7)(3.48,1.4e7)(3.52,2.0e7)(3.545,2.0e7)(3.585,1.82e7)(3.63,1.51e7)(3.67,1.82e7)(3.7,1.76e7)(3.74,1.54e7)(3.785,1.63e7)(3.83,2.0e7)(3.875,1.43e7)(3.92,1.13e7)(3.98,1.34e7)(4.02,1.63e7)(4.07,5e6)(4.12,1.03e7)(4.16,1.51e7)(4.21,1.11e7)(4.28,1.58e7)(4.33,1.25e7)(4.39,1.29e7)(4.46,1.8e7)(4.52,1.11e7)(4.57,1.34e7)(4.62,1.18e7)(4.67,1.51e7)(4.73,1.4e7)(4.78,1.7e7)(4.84,1.34e7)(4.9,5e6)(4.97,2.13e7)(5.03,1.4e7)(5.06,1.25e7)(5.1,1.8e7)(5.16,1.94e7)(5.24,1.54e7)(5.32,1.48e7)(5.4,2.2e7)(5.47,1.85e7)(5.53,1.48e7)(5.59,2.72e7)(5.65,2.38e7)(5.72,2.52e7)(5.79,1.66e7)(5.86,1.48e7)(5.93,1.82e7)(5.99,2.95e7)(6.06,1.63e7)(6.14,2.17e7)(6.21,1.98e7)(6.25,3.12e7)(6.33,1.7e7)(6.4,2.2e7)(6.48,1.98e7)(6.55,2.2e7)(6.62,1.7e7)(6.7,2.17e7)(6.78,1.2e7)(6.8,3.0e7)(6.88,2.38e7)(6.99,2.72e7)(7.07,1.98e7)(7.15,1.51e7)(7.24,2.2e7)(7.32,2.48e7)(7.4,1.7e7)(7.45,2.62e7)(7.53,2.13e7)(7.59,4.25e7)(7.65,2.27e7)(7.73,2.88e7)(7.82,1.98e7)(7.93,2.17e7)(8.0,2.48e7)(8.08,1.98e7)(8.18,3.0e7)(8.24,2.58e7)(8.31,3.56e7)(8.37,1.8e7)(8.47,2.1e7)(8.57,2.05e7)(8.66,2.72e7)(8.76,2.85e7)(8.86,1.7e7)(8.97,2.58e7)(9.07,2.27e7)(9.17,1.82e7)(9.27,2.38e7)(9.37,2.58e7)(9.5,1.76e7)(9.6,2.67e7)(9.7,3.25e7)(9.81,2.05e7)(9.9,3.25e7)(10,1.58e7)
};
\node[lbl] at (rel axis cs:0.0712,0.9545) {Negative};
\end{axis}
\end{tikzpicture}
\end{document}
